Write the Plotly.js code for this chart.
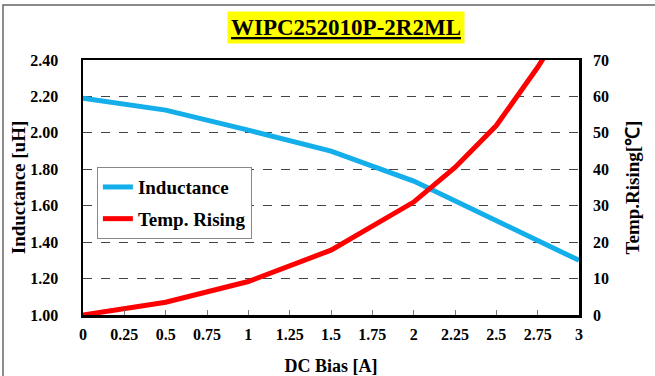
<!DOCTYPE html>
<html>
<head>
<meta charset="utf-8">
<script src="https://cdn.plot.ly/plotly-3.0.1.min.js"></script>
<style>html,body{margin:0;padding:0;background:#fff;}#chart{width:655px;height:376px;}</style>
</head>
<body>
<div id="chart"></div>
<script>
const chartTitle = "WIPC252010P-2R2ML";
const indCurrent = [0, 0.5, 1, 1.5, 2, 2.5, 3];
const inductance = [2.19, 2.125, 2.015, 1.90, 1.735, 1.52, 1.30];
const tempCurrent = [0, 0.5, 1, 1.5, 2, 2.25, 2.5, 2.75, 3];
const tempRise = [0, 3.5, 9.2, 17.8, 31, 40.5, 52, 68, 86];
const xTickVals = [0, 0.25, 0.5, 0.75, 1, 1.25, 1.5, 1.75, 2, 2.25, 2.5, 2.75, 3];
const xTickText = ["0", "0.25", "0.5", "0.75", "1", "1.25", "1.5", "1.75", "2", "2.25", "2.5", "2.75", "3"];

const serif = "'Liberation Serif', 'Times New Roman', serif";

const traces = [
  {x: indCurrent, y: inductance, name: "Inductance", type: "scatter", mode: "lines",
   line: {color: "#14aeea", width: 5}, yaxis: "y", legendgroup: "a"},
  {x: tempCurrent, y: tempRise, name: "Temp. Rising", type: "scatter", mode: "lines",
   line: {color: "#ff0000", width: 5}, yaxis: "y2", legendgroup: "b"}
];

const layout = {
  width: 655, height: 376,
  margin: {l: 83, r: 76, t: 60, b: 61},
  paper_bgcolor: "#fff", plot_bgcolor: "#fff",
  font: {family: serif, color: "#000", size: 16, weight: "bold"},
  showlegend: true,
  legend: {x: 0.028, y: 0.58, xanchor: "left", yanchor: "top",
    bgcolor: "#fff", bordercolor: "#888", borderwidth: 1,
    font: {family: serif, size: 19, weight: "bold", color: "#000"},
    tracegroupgap: 4, itemwidth: 30},
  xaxis: {range: [0, 3], tickvals: xTickVals, ticktext: xTickText,
    showline: true, linecolor: "#000", linewidth: 2.5, mirror: true,
    ticks: "inside", ticklen: 5, tickcolor: "#777", tickwidth: 1,
    showgrid: false, zeroline: false, ticklabelstandoff: 3,
    tickfont: {family: serif, size: 16, weight: "bold"},
    title: {text: "DC Bias [A]", font: {family: serif, size: 18, weight: "bold"}, standoff: 19}},
  yaxis: {range: [1, 2.4], dtick: 0.2, tickformat: ".2f",
    showline: true, linecolor: "#000", linewidth: 2.5, mirror: true,
    ticks: "", showgrid: true, gridcolor: "#444", gridwidth: 1, griddash: "dash",
    zeroline: false, ticklabelstandoff: 19,
    tickfont: {family: serif, size: 16, weight: "bold"},
    title: {text: "Inductance [uH]", font: {family: serif, size: 19, weight: "bold"}, standoff: 0}},
  yaxis2: {range: [0, 70], dtick: 10, overlaying: "y", side: "right",
    showline: false, ticks: "", showgrid: false, zeroline: false, ticklabelstandoff: 13,
    tickfont: {family: serif, size: 16, weight: "bold"},
    title: {text: "Temp.Rising[℃]", font: {family: serif, size: 19, weight: "bold"}, standoff: 17}},
  annotations: [
    {xref: "paper", yref: "paper", x: 0.531, y: 1.1255, xanchor: "center", yanchor: "middle",
     text: "<u>" + chartTitle + "</u>", showarrow: false, bgcolor: "#ffff00", borderpad: 3,
     font: {family: serif, size: 23, weight: "bold", color: "#000"}}
  ],
  shapes: [
    {type: "rect", xref: "paper", yref: "paper", x0: -0.1613, x1: 1.17, y0: -0.27, y1: 1.2157,
     line: {color: "#666", width: 1.5}, fillcolor: "rgba(0,0,0,0)", layer: "below"}
  ]
};

Plotly.newPlot("chart", traces, layout, {displayModeBar: false, staticPlot: true});
</script>
</body>
</html>
